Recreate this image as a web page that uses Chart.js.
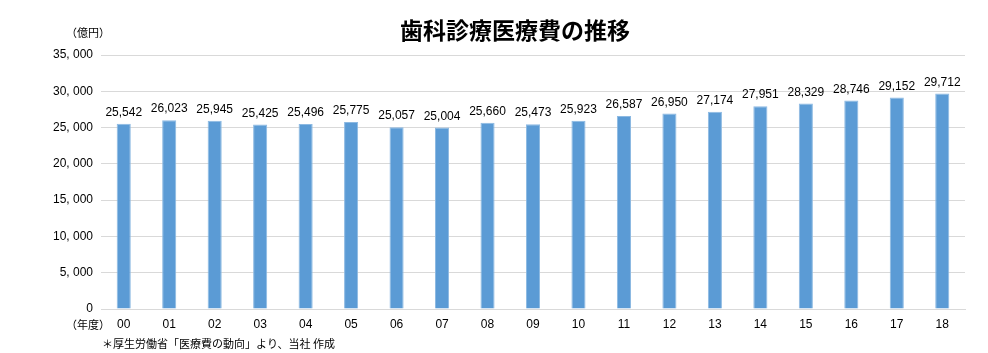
<!DOCTYPE html>
<html>
<head>
<meta charset="utf-8">
<script src="https://cdn.jsdelivr.net/npm/chart.js@4"></script>
<style>
  html, body { margin: 0; padding: 0; background: #fff; }
  #wrap { width: 988px; height: 353px; position: relative; }
</style>
</head>
<body>
<div id="wrap"><canvas id="dentalChart"></canvas></div>
<script>
// 歯科診療医療費 (億円)
const years = ["00", "01", "02", "03", "04", "05", "06", "07", "08", "09", "10", "11", "12", "13", "14", "15", "16", "17", "18"];
const costs = [25542, 26023, 25945, 25425, 25496, 25775, 25057, 25004, 25660, 25473, 25923, 26587, 26950, 27174, 27951, 28329, 28746, 29152, 29712];
const yTicks = [0, 5000, 10000, 15000, 20000, 25000, 30000, 35000];

const jpFont = "'Noto Sans CJK JP', sans-serif";
const numFont = "'Liberation Sans', Arial, sans-serif";

// y-axis style: "35, 000"
function yLabel(v) {
    if (v === 0) return "0";
    const s = v.toLocaleString("en-US");
    return s.replace(",", ", ");
}

// labels above the bars + extra texts
const textPlugin = {
    id: "textPlugin",
    afterDatasetsDraw(chart) {
        const ctx = chart.ctx;
        const meta = chart.getDatasetMeta(0);
        ctx.save();
        ctx.fillStyle = "#000";
        ctx.font = "12px " + numFont;
        ctx.textAlign = "center";
        ctx.textBaseline = "bottom";
        meta.data.forEach((bar, i) => {
            ctx.fillText(costs[i].toLocaleString("en-US"), bar.x, bar.y - 5);
        });

        // title
        ctx.font = "bold 23px " + jpFont;
        ctx.textBaseline = "middle";
        ctx.fillText("歯科診療医療費の推移", 515, 30);

        // units
        ctx.font = "11px " + jpFont;
        ctx.textAlign = "left";
        ctx.fillText("（億円）", 66, 33);
        ctx.fillText("（年度）", 66, 325);

        // note
        ctx.fillText("＊厚生労働省「医療費の動向」より、当社 作成", 102, 344);
        ctx.restore();
    }
};

const ctx = document.getElementById("dentalChart").getContext("2d");
const dentalChart = new Chart(ctx, {
    type: "bar",
    data: {
        labels: years,
        datasets: [{
            label: "歯科診療医療費",
            data: costs,
            backgroundColor: "#5b9bd5",
            borderColor: "#8cb9e2",
            borderWidth: 1,
            categoryPercentage: 1.0,
            barPercentage: 0.31
        }]
    },
    options: {
        responsive: true,
        maintainAspectRatio: false,
        animation: false,
        layout: { padding: { top: 55, right: 23, bottom: 0, left: 0 } },
        plugins: {
            legend: { display: false },
            tooltip: { enabled: false }
        },
        scales: {
            x: {
                grid: { display: false, drawTicks: false },
                border: { color: "#d9d9d9" },
                ticks: {
                    color: "#000",
                    font: { size: 12, family: numFont },
                    padding: 8
                },
                afterFit(scale) { scale.height = 44; }
            },
            y: {
                min: 0,
                max: 35000,
                afterBuildTicks(scale) {
                    scale.ticks = yTicks.map(v => ({ value: v }));
                },
                grid: { color: "#d9d9d9", drawTicks: false },
                border: { display: false },
                ticks: {
                    color: "#000",
                    font: { size: 12, family: numFont },
                    padding: 8,
                    callback: (v) => yLabel(v)
                },
                afterFit(scale) { scale.width = 101; }
            }
        }
    },
    plugins: [textPlugin]
});
</script>
</body>
</html>
